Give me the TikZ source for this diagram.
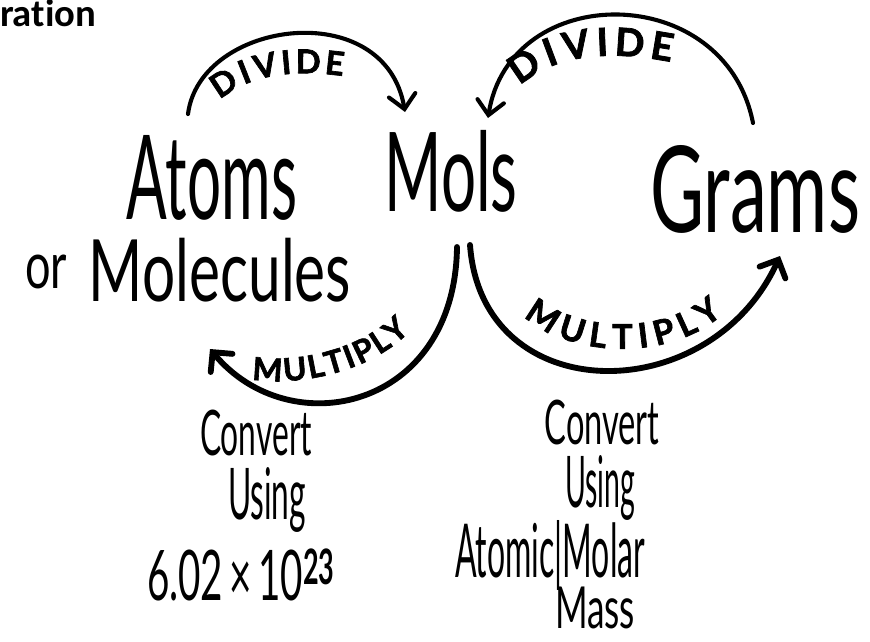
\documentclass[tikz,border=0pt]{standalone}
\usepackage{fontspec}
\setmainfont{Lato}
\newfontfamily\titlefont[Ligatures=NoCommon]{Carlito}
\newfontfamily\capfont{Lato}[BoldFeatures={FakeBold=2}]
\usetikzlibrary{arrows.meta,decorations.text,calc}
\newlength\pxu
\setlength\pxu{0.03cm}
\newcommand\hw[3]{\resizebox*{#1\pxu}{#2\pxu}{\fontsize{40}{40}\selectfont #3}}
\tikzset{
  word/.style={inner sep=0pt, outer sep=0pt},
  divarrow/.style={line width=3.5pt, line cap=round, line join=round, -{Straight Barb[length=0.42cm,width=0.8cm,line cap=round]}},
  mularrow/.style={line width=5pt, line cap=round, line join=round, -{Straight Barb[length=0.42cm,width=0.85cm,line cap=round]}},
}
\begin{document}
\begin{tikzpicture}[x=0.03cm,y=-0.03cm]
\fill[white] (0,0) rectangle (870,641);
\useasboundingbox (0,0) rectangle (870,641);

% title fragment
\node[word, anchor=base west, font=\titlefont\bfseries\fontsize{33}{33}\selectfont] (title) at (0,26) {ration};

% main words
\node[word] (atoms) at (212,178) {\hw{170}{85}{Atoms}};
\node[word] (or) at (46,272) {\hw{42}{34}{or}};
\node[word] (molecules) at (220,270) {\hw{262}{64}{Molecules}};
\node[word] (mols) at (451,171) {\hw{133}{82}{Mols}};
\node[word] (grams) at (755,189) {\hw{210}{88}{Grams}};

% left explanation
\node[word] (conv1) at (256,433) {\hw{112}{46}{Convert}};
\node[word] (using1) at (267,500) {\hw{78}{65}{Using}};
\node[word] (avog) at (241,575) {\hw{188}{52}{6.02\,×\,10\textsuperscript{\bfseries 23}}};

% right explanation
\node[word] (conv2) at (602,422) {\hw{115}{45}{Convert}};
\node[word] (using2) at (600,488) {\hw{70}{65}{Using}};
\node[word] (atomic) at (550,555) {\hw{190}{70}{Atomic|Molar}};
\node[word] (mass) at (595,608) {\hw{80}{42}{Mass}};

% connector end points
\coordinate (ldS) at (188,114);
\coordinate (ldE) at (405,112);
\coordinate (rdS) at (753,123);
\coordinate (rdE) at (488,118);
\coordinate (lmS) at (457,247);
\coordinate (lmE) at (210,349);
\coordinate (rmS) at (470,245);
\coordinate (rmE) at (780,256);

% DIVIDE arcs
\draw[divarrow] (ldS) .. controls (200,20) and (385,-5) .. (ldE);
\draw[divarrow] (rdS) .. controls (725,-20) and (510,-20) .. (rdE);
% MULTIPLY arcs
\draw[mularrow] (lmS) .. controls (455,410) and (290,445) .. (lmE);
\draw[mularrow] (rmS) .. controls (482,410) and (710,410) .. (rmE);

% labels along arcs
\path[decorate, decoration={text along path, text align={fit to path},
  text={|\capfont\bfseries\fontsize{28}{28}\selectfont|DIVIDE}}]
  (220,100) .. controls (245,78) and (285,68) .. (343,76);
\path[decorate, decoration={text along path, text align={fit to path},
  text={|\capfont\bfseries\fontsize{33}{33}\selectfont|DIVIDE}}]
  (520,86) .. controls (550,58) and (600,48) .. (671,62);
\path[decorate, decoration={text along path, text align={fit to path},
  text={|\capfont\bfseries\fontsize{27}{27}\selectfont|MULTIPLY}}]
  (252,379) .. controls (296,387) and (370,373) .. (410,331);
\path[decorate, decoration={text along path, text align={fit to path},
  text={|\capfont\bfseries\fontsize{29}{29}\selectfont|MULTIPLY}}]
  (524,316) .. controls (570,358) and (670,362) .. (723,314);
\end{tikzpicture}
\end{document}
